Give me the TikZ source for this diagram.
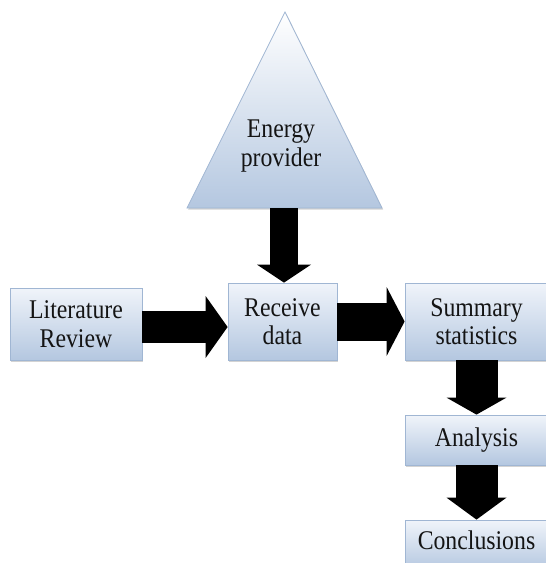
\documentclass[tikz,border=0pt]{standalone}
\usepackage{fontspec}
\setmainfont{Liberation Serif}[FakeStretch=0.88]
\usetikzlibrary{arrows.meta,shadows,calc}
\definecolor{boxtop}{HTML}{F0F4FA}
\definecolor{boxbot}{HTML}{B4C7E0}
\definecolor{boxline}{HTML}{A0B6D3}
\begin{document}
\begin{tikzpicture}[x=1pt,y=-1pt,
  lbl/.style={font=\fontsize{27}{28.5}\selectfont, align=center, inner sep=0pt, text=black!92},
  box/.style={lbl, draw=boxline, line width=0.8pt, top color=boxtop, bottom color=boxbot,
    drop shadow={shadow xshift=1.2pt, shadow yshift=-1.5pt, opacity=0.35}},
  fat/.style={draw=black, line cap=butt},
  tri/.style={draw=boxline, line width=0.8pt, top color=white, bottom color=boxbot,
    drop shadow={shadow xshift=1.2pt, shadow yshift=-1.5pt, opacity=0.35}}]
\useasboundingbox (0,0) rectangle (546,563);
\clip (0,0) rectangle (546,563);
% triangle
\coordinate (tA) at (285,12);
\coordinate (tL) at (187,208);
\coordinate (tR) at (382,208);
\coordinate (tB) at (284,208);
\path[tri] (tA) -- (tR) -- (tL) -- cycle;
\node[lbl] (ep) at (281,146) {Energy\\provider};
% boxes
\node[box, minimum width=132pt, minimum height=72pt] (lit) at (76,324) {Literature\\Review};
\node[box, minimum width=109pt, minimum height=77pt] (rec) at (282.5,321.5) {Receive\\data};
\node[box, minimum width=143pt, minimum height=77pt] (sum) at (476.5,321.5) {Summary\\statistics};
\node[box, minimum width=143pt, minimum height=50pt, text height=18pt, text depth=5pt] (ana) at (476.5,440) {Analysis};
\node[box, minimum width=143pt, minimum height=50pt, text height=18pt, text depth=10pt] (con) at (476.5,545) {Conclusions};
% block arrows
\draw[fat, line width=32pt, -{Triangle[length=22pt,width=62pt,line width=0pt]}]
  ($(lit.east)+(0,3)$) -- ($(lit.east -| rec.west)+(0,3)$);
\draw[fat, line width=38pt, -{Triangle[length=18pt,width=69pt,line width=0pt]}]
  (rec.east) -- (sum.west);
\draw[fat, line width=28pt, -{Triangle[length=18pt,width=54pt,line width=0pt]}]
  (tB) -- (tB |- rec.north);
\draw[fat, line width=42pt, -{Triangle[length=17pt,width=60pt,line width=0pt]}]
  (sum.south) -- (ana.north);
\draw[fat, line width=42pt, -{Triangle[length=22pt,width=60pt,line width=0pt]}]
  (ana.south) -- (con.north);
\end{tikzpicture}
\end{document}
